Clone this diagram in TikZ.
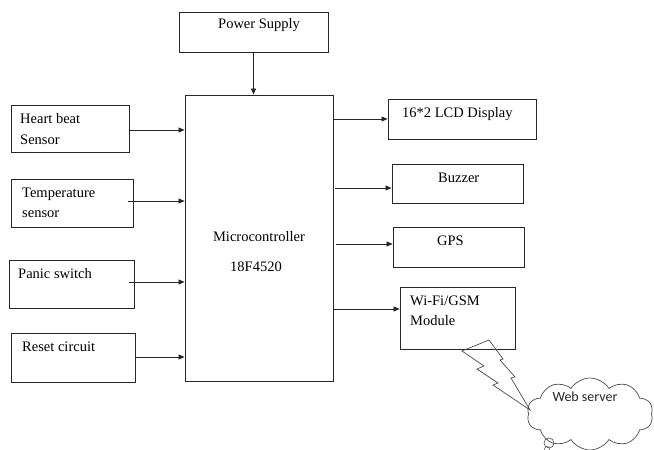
\documentclass[tikz,border=0pt]{standalone}
\usepackage{fontspec}
\setmainfont{Liberation Serif}
\newfontfamily\cloudfont{Carlito}
\usetikzlibrary{arrows.meta,shapes.symbols}
\begin{document}
\begin{tikzpicture}[x=1pt,y=-1pt,
  blk/.style={draw=black!85,line width=0.9pt,inner sep=0pt},
  lbl/.style={anchor=west,inner sep=0pt,font=\fontsize{14.5}{16}\selectfont},
  conn/.style={draw=black!85,line width=0.8pt,-{Triangle[length=6pt,width=5pt]}}]
\useasboundingbox (0,0) rectangle (654,450);
% boxes
\node[blk,minimum width=149pt,minimum height=40pt] (ps) at (253.5,32) {};
\node[blk,minimum width=148pt,minimum height=286pt] (mc) at (259,238) {};
\node[blk,minimum width=118pt,minimum height=47pt] (hb) at (70,128.5) {};
\node[blk,minimum width=122pt,minimum height=48pt] (ts) at (72,203) {};
\node[blk,minimum width=125pt,minimum height=48pt] (pn) at (71.5,284) {};
\node[blk,minimum width=124pt,minimum height=49pt] (rc) at (73,357.5) {};
\node[blk,minimum width=148pt,minimum height=40pt] (lcd) at (462,119) {};
\node[blk,minimum width=131pt,minimum height=39pt] (bz) at (457.5,183.5) {};
\node[blk,minimum width=131pt,minimum height=40pt] (gps) at (458.5,247) {};
\node[blk,minimum width=115pt,minimum height=62pt] (wf) at (457.5,318) {};
% labels
\node[lbl] (tps) at (218,25) {Power Supply};
\node[lbl] (thb1) at (20,119) {Heart beat};
\node[lbl] (thb2) at (20,140) {Sensor};
\node[lbl] (tts1) at (22,194) {Temperature};
\node[lbl] (tts2) at (22,214) {sensor};
\node[lbl] (tpn) at (18,274) {Panic switch};
\node[lbl] (trc) at (22,347) {Reset circuit};
\node[lbl,anchor=center] (tmc1) at (259,237) {Microcontroller};
\node[lbl,anchor=center] (tmc2) at (256,267) {18F4520};
\node[lbl] (tlcd) at (402,114) {16*2 LCD Display};
\node[lbl] (tbz) at (438,178) {Buzzer};
\node[lbl] (tgps) at (437,241) {GPS};
\node[lbl] (twf1) at (410,301) {Wi-Fi/GSM};
\node[lbl] (twf2) at (410,321) {Module};
% connectors
\draw[conn] (ps.south) -- (ps.south |- mc.north);
\draw[conn] (hb.east |- 0,130) -- (mc.west |- 0,130);
\draw[conn] (128,201) -- (mc.west |- 0,201);
\draw[conn] (129,282) -- (mc.west |- 0,282);
\draw[conn] (rc.east |- 0,357) -- (mc.west |- 0,357);
\draw[conn] (mc.east |- 0,119) -- (lcd.west |- 0,119);
\draw[conn] (335,188) -- (bz.west |- 0,188);
\draw[conn] (336,244) -- (gps.west |- 0,244);
\draw[conn] (mc.east |- 0,309) -- (wf.west |- 0,309);
% cloud
\node[cloud,cloud puffs=10,cloud puff arc=115,aspect=1.7,draw=black!70,line width=0.7pt,
  minimum width=126pt,minimum height=72pt,inner sep=0pt] (ws) at (590,414) {};
\node[font=\cloudfont\fontsize{14}{16}\selectfont,text=black!85] (tws) at (585,397) {Web server};
\draw[black!70,line width=0.6pt] (549,443) circle (5pt);
\draw[black!70,line width=0.5pt] (547,449) circle (2.5pt);
% lightning bolt
\draw[black!70,line width=0.7pt,line join=miter]
  (489,340) -- (462,351) -- (484,366) -- (477,369) -- (498,383) -- (493,385) -- (530,410)
  -- (511,378) -- (515,377) -- (500,360) -- (503,359) -- cycle;
\end{tikzpicture}
\end{document}
